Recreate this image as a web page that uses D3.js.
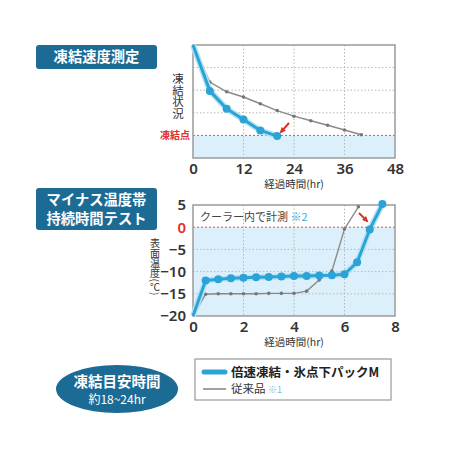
<!DOCTYPE html>
<html>
<head>
<meta charset="utf-8">
<script src="https://cdn.jsdelivr.net/npm/d3@7"></script>
<style>
  body { margin: 0; background: #fff; }
  svg { display: block; }
  text { font-family: "Noto Sans CJK JP", "Noto Sans", sans-serif; }
</style>
</head>
<body>
<script>
// freeze speed test (top chart), hours vs freeze state (1 = freezing point)
var freezeTicks = [0, 12, 24, 36, 48];
var freezeFastHr = [0, 4, 8, 12, 16, 20];
var freezeFastVal = [5, 2.97, 2.18, 1.7, 1.22, 0.97];
var freezeOldHr = [0, 4, 8, 12, 16, 20, 24, 28, 32, 36, 40];
var freezeOldVal = [5, 3.36, 2.93, 2.7, 2.4, 2.1, 1.85, 1.65, 1.45, 1.24, 1.03];

// sub-zero duration test (bottom chart), hours vs surface temp
var tempXTicks = [0, 2, 4, 6, 8];
var tempYTicks = [5, 0, -5, -10, -15, -20];
var tempFastHr = [0, 0.5, 1, 1.5, 2, 2.5, 3, 3.5, 4, 4.5, 5, 5.5, 6, 6.5, 7, 7.5];
var tempFastVal = [-20, -12, -11.7, -11.5, -11.4, -11.3, -11.2, -11.1, -11, -11, -10.9, -10.8, -10.6, -7.9, -0.5, 5.2];
var tempOldHr = [0, 0.5, 1, 1.5, 2, 2.5, 3, 3.5, 4, 4.5, 5, 5.5, 6, 6.55];
var tempOldVal = [-20, -15.1, -15, -15, -15, -15, -14.9, -14.9, -14.9, -14.4, -11.9, -9.9, -0.4, 4.6];

var blue = '#2ba3d6', halo = '#b5e3f6', gray = '#8a8a8a', navy = '#1b6b94';

var svg = d3.select('body').append('svg')
    .attr('width', 450)
    .attr('height', 450);

function zip(xs, ys) {
    return xs.map(function(x, i) { return [x, ys[i]]; });
}

// vertical (tategaki) label centred on (x, y)
function vText(str, x, y, size) {
    svg.append('text').attr('x', x).attr('y', y)
        .attr('text-anchor', 'middle').attr('font-size', size).attr('fill', '#333')
        .style('writing-mode', 'vertical-rl')
        .text(str);
}

function drawPlot(opts) {
    var x = opts.x, y = opts.y;
    var x0 = x.range()[0], x1 = x.range()[1];
    var yTop = y.range()[1], yBot = y.range()[0];
    var g = svg.append('g');

    // white above the freezing line, light blue below
    g.append('rect').attr('x', x0).attr('y', yTop).attr('width', x1 - x0)
        .attr('height', yBot - yTop).attr('fill', '#fff');
    g.append('rect').attr('x', x0).attr('y', y(opts.freeze)).attr('width', x1 - x0)
        .attr('height', yBot - y(opts.freeze)).attr('fill', '#dcf0fb');

    g.selectAll('.vg').data(opts.xGrid).enter().append('line')
        .attr('x1', function(d) { return x(d); }).attr('x2', function(d) { return x(d); })
        .attr('y1', yTop).attr('y2', yBot)
        .attr('stroke', '#b8b8b8').attr('stroke-dasharray', '1.5,2');
    g.selectAll('.hg').data(opts.yGrid).enter().append('line')
        .attr('x1', x0).attr('x2', x1)
        .attr('y1', function(d) { return y(d); }).attr('y2', function(d) { return y(d); })
        .attr('stroke', '#b8b8b8').attr('stroke-dasharray', '1.5,2');
    g.append('line').attr('x1', x0).attr('x2', x1)
        .attr('y1', y(opts.freeze)).attr('y2', y(opts.freeze))
        .attr('stroke', '#d9534f').attr('stroke-width', 1).attr('stroke-dasharray', '2,2');

    g.append('rect').attr('x', x0).attr('y', yTop).attr('width', x1 - x0)
        .attr('height', yBot - yTop).attr('fill', 'none')
        .attr('stroke', '#9a9a9a').attr('stroke-width', 1.5);

    var line = d3.line().x(function(d) { return x(d[0]); }).y(function(d) { return y(d[1]); });

    var old = zip(opts.oldHr, opts.oldVal);
    g.append('path').datum(old).attr('d', line).attr('fill', 'none')
        .attr('stroke', gray).attr('stroke-width', 1.4);
    g.selectAll('.od').data(old.slice(1)).enter().append('circle')
        .attr('cx', function(d) { return x(d[0]); }).attr('cy', function(d) { return y(d[1]); })
        .attr('r', 1.8).attr('fill', '#777');

    var fast = zip(opts.fastHr, opts.fastVal);
    g.append('path').datum(fast).attr('d', line).attr('fill', 'none')
        .attr('stroke', halo).attr('stroke-width', 6).attr('stroke-linejoin', 'round');
    g.append('path').datum(fast).attr('d', line).attr('fill', 'none')
        .attr('stroke', blue).attr('stroke-width', 3).attr('stroke-linejoin', 'round');
    g.selectAll('.fd').data(fast.slice(1)).enter().append('circle')
        .attr('cx', function(d) { return x(d[0]); }).attr('cy', function(d) { return y(d[1]); })
        .attr('r', 4).attr('fill', blue);

    var xa = g.append('g').attr('transform', 'translate(0,' + (yBot + 2) + ')')
        .call(d3.axisBottom(x).tickValues(opts.xTicks).tickSize(0).tickFormat(d3.format('d')));
    xa.select('.domain').remove();
    xa.selectAll('text').attr('font-size', 15).attr('font-weight', 600)
        .attr('fill', '#333').style('font-family', '"Noto Sans", sans-serif');

    g.append('text').attr('x', (x0 + x1) / 2).attr('y', yBot + 30)
        .attr('text-anchor', 'middle').attr('font-size', 10.5).attr('fill', '#333')
        .text('経過時間(hr)');

    // red arrow pointing at the fast series' freezing moment
    var a = opts.arrow;
    g.append('line').attr('x1', a[0]).attr('y1', a[1]).attr('x2', a[2]).attr('y2', a[3])
        .attr('stroke', '#d9342b').attr('stroke-width', 2);
    var ang = Math.atan2(a[3] - a[1], a[2] - a[0]);
    var hx = a[2], hy = a[3], s = 5;
    g.append('path').attr('fill', '#d9342b')
        .attr('d', 'M' + (hx + Math.cos(ang) * 2) + ',' + (hy + Math.sin(ang) * 2) +
            'L' + (hx - Math.cos(ang - 0.6) * s) + ',' + (hy - Math.sin(ang - 0.6) * s) +
            'L' + (hx - Math.cos(ang + 0.6) * s) + ',' + (hy - Math.sin(ang + 0.6) * s) + 'Z');
    return g;
}

// ---- top chart
var fx = d3.scaleLinear().domain([0, 48]).range([193, 395]);
var fy = d3.scaleLinear().domain([0, 5]).range([158, 45]);
drawPlot({
    x: fx, y: fy, freeze: 1,
    xGrid: [12, 24, 36], yGrid: [2, 3, 4], xTicks: freezeTicks,
    fastHr: freezeFastHr, fastVal: freezeFastVal,
    oldHr: freezeOldHr, oldVal: freezeOldVal,
    arrow: [289, 123, 281, 132]
});
vText('凍結状況', 178, 96, 11.5);
svg.append('text').attr('x', 190).attr('y', fy(1) + 4).attr('text-anchor', 'end')
    .attr('font-size', 10).attr('font-weight', 700).attr('fill', '#e0302a').text('凍結点');

// ---- bottom chart
var tx = d3.scaleLinear().domain([0, 8]).range([193, 395]);
var ty = d3.scaleLinear().domain([-20, 5]).range([316, 205]);
drawPlot({
    x: tx, y: ty, freeze: 0,
    xGrid: [2, 4, 6], yGrid: [-5, -10, -15], xTicks: tempXTicks,
    fastHr: tempFastHr, fastVal: tempFastVal,
    oldHr: tempOldHr, oldVal: tempOldVal,
    arrow: [359, 213, 367, 221]
});
var ya = svg.append('g').attr('transform', 'translate(189,0)')
    .call(d3.axisLeft(ty).tickValues(tempYTicks).tickSize(0).tickFormat(d3.format('d')));
ya.select('.domain').remove();
ya.selectAll('text').attr('font-size', 15).attr('font-weight', 600)
    .attr('fill', function(d) { return d === 0 ? '#e0302a' : '#333'; })
    .style('font-family', '"Noto Sans", sans-serif');

vText('表面温度(℃)', 155, 267, 10);

var note = svg.append('text').attr('x', 200).attr('y', 221).attr('font-size', 11).attr('fill', '#444');
note.append('tspan').text('クーラー内で計測 ');
note.append('tspan').attr('fill', '#3aa6d8').text('※2');

// ---- title badges
function badge(x, y, w, h, lines) {
    svg.append('rect').attr('x', x).attr('y', y).attr('width', w).attr('height', h)
        .attr('rx', 3).attr('fill', navy);
    svg.append('g').selectAll('text').data(lines).enter().append('text')
        .attr('x', x + w / 2)
        .attr('y', function(d, i) { return y + h / 2 + (i - (lines.length - 1) / 2) * 19 + 5.2; })
        .attr('text-anchor', 'middle').attr('font-size', 14.3).attr('font-weight', 700)
        .attr('fill', '#fff').text(function(d) { return d; });
}
badge(36, 45, 121, 24, ['凍結速度測定']);
badge(36, 188, 121, 42, ['マイナス温度帯', '持続時間テスト']);

// ---- freeze time ellipse
svg.append('ellipse').attr('cx', 117).attr('cy', 389).attr('rx', 61).attr('ry', 24).attr('fill', navy);
svg.append('text').attr('x', 117).attr('y', 386.5).attr('text-anchor', 'middle')
    .attr('font-size', 14.5).attr('font-weight', 700).attr('fill', '#fff').text('凍結目安時間');
svg.append('text').attr('x', 117).attr('y', 403.5).attr('text-anchor', 'middle')
    .attr('font-size', 12).attr('fill', '#fff').text('約18~24hr');

// ---- legend
svg.append('rect').attr('x', 195).attr('y', 359).attr('width', 196).attr('height', 41)
    .attr('fill', '#fff').attr('stroke', '#999').attr('stroke-width', 1.2);
svg.append('line').attr('x1', 204).attr('x2', 225).attr('y1', 372).attr('y2', 372)
    .attr('stroke', blue).attr('stroke-width', 5).attr('stroke-linecap', 'round');
svg.append('text').attr('x', 231).attr('y', 376.5).attr('font-size', 12.5).attr('font-weight', 700)
    .attr('fill', '#222').text('倍速凍結・氷点下パックM');
svg.append('line').attr('x1', 203).attr('x2', 226).attr('y1', 389).attr('y2', 389)
    .attr('stroke', gray).attr('stroke-width', 1.6);
var leg2 = svg.append('text').attr('x', 231).attr('y', 393).attr('font-size', 11.5).attr('fill', '#333');
leg2.append('tspan').text('従来品 ');
leg2.append('tspan').attr('fill', '#6cc0e6').attr('font-size', 9).text('※1');
</script>
</body>
</html>
